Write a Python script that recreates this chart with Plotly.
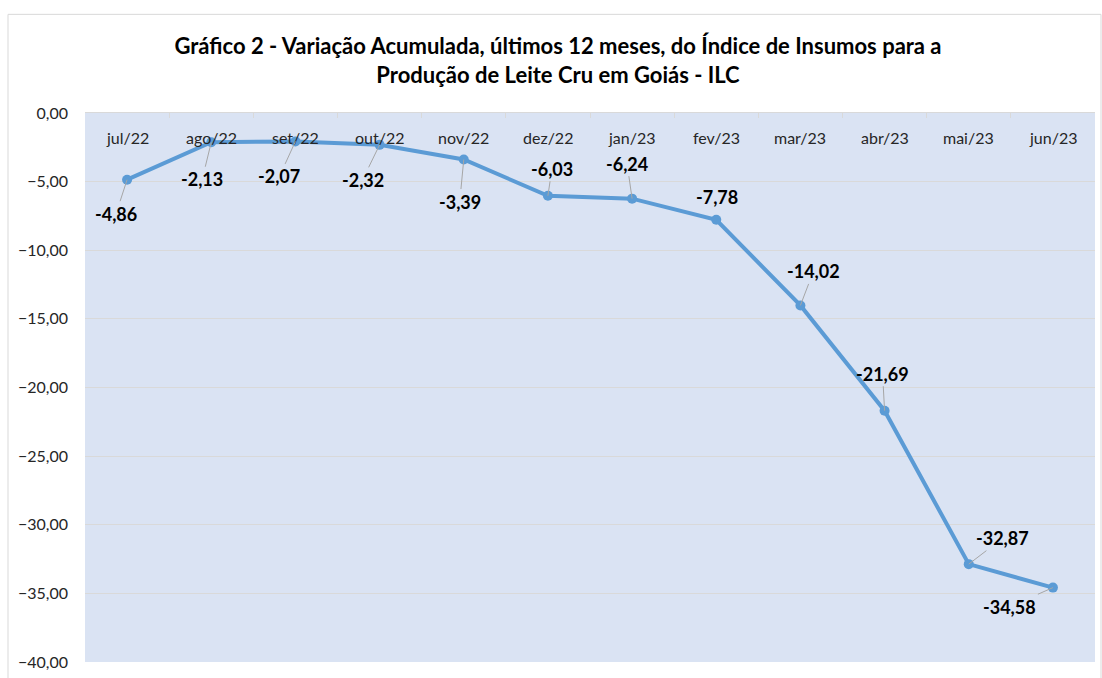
import plotly.graph_objects as go

categories = ["jul/22", "ago/22", "set/22", "out/22", "nov/22", "dez/22",
              "jan/23", "fev/23", "mar/23", "abr/23", "mai/23", "jun/23"]
values = [-4.86, -2.13, -2.07, -2.32, -3.39, -6.03,
          -6.24, -7.78, -14.02, -21.69, -32.87, -34.58]
value_labels = ["-4,86", "-2,13", "-2,07", "-2,32", "-3,39", "-6,03",
                "-6,24", "-7,78", "-14,02", "-21,69", "-32,87", "-34,58"]
y_ticks = [0, -5, -10, -15, -20, -25, -30, -35, -40]

# label offsets in pixels (text centre relative to point) and leader visibility
label_dx = [-11, -9, -16, -17, -4, 4, -5, 1, 13, -2, 34, -43]
label_dy = [34, 37, 35, 35, 42, -27, -35, -23, -34, -37, -26, 19]
leader = [True, True, True, True, True, True, True, False, True, True, True, True]

FONT = "Lato"
LINE_COLOR = "#5B9BD5"

fig = go.Figure()
fig.add_trace(go.Scatter(
    x=categories, y=values, mode="lines+markers",
    line=dict(color=LINE_COLOR, width=4),
    marker=dict(color=LINE_COLOR, size=10),
    hoverinfo="x+y", showlegend=False,
))

# category labels drawn inside the plot, just below the top edge
for c in categories:
    fig.add_annotation(
        x=c, y=1, xref="x", yref="paper", text=c, showarrow=False,
        yanchor="middle", yshift=-24,
        font=dict(family=FONT, size=16, color="#262626"),
    )

for c, v, t, dx, dy, ld in zip(categories, values, value_labels, label_dx, label_dy, leader):
    fig.add_annotation(
        x=c, y=v, xref="x", yref="y", text=f"<b>{t}</b>",
        showarrow=True, ax=dx, ay=dy, axref="pixel", ayref="pixel",
        arrowhead=0, arrowwidth=1,
        arrowcolor="#A6A6A6" if ld else "rgba(0,0,0,0)",
        standoff=0, startstandoff=0,
        font=dict(family=FONT, size=18, color="#000000"),
    )

# outer chart border
fig.add_shape(type="rect", xref="paper", yref="paper",
              x0=(8 - 85) / 1010, x1=(1101 - 85) / 1010,
              y0=(664 - 700) / 551, y1=(664 - 14) / 551,
              line=dict(color="#D9D9D9", width=1), layer="below")

fig.update_layout(
    width=1102, height=678,
    margin=dict(l=85, r=7, t=113, b=14),
    paper_bgcolor="white", plot_bgcolor="#DAE3F3",
    separators=",.",
    title=dict(
        text="<b>Gráfico 2 - Variação Acumulada, últimos 12 meses, do Índice de Insumos para a<br>Produção de Leite Cru em Goiás - ILC</b>",
        x=558 / 1102, xanchor="center", xref="container",
        y=1 - 54 / 678, yanchor="top", yref="container",
        font=dict(family=FONT, size=22, color="#000000"),
    ),
    font=dict(family=FONT),
)

fig.update_xaxes(
    type="category", range=[-0.5, len(categories) - 0.5], side="top",
    showline=True, linecolor="#D9D9D9", linewidth=1,
    ticks="inside", tickson="boundaries", ticklen=5, tickcolor="#D9D9D9",
    showticklabels=False,
    showgrid=False, zeroline=False,
)
fig.update_yaxes(
    range=[-40, 0], tickvals=y_ticks, tickformat=".2f",
    showgrid=True, gridcolor="#D9D9D9", gridwidth=1,
    zeroline=False, showline=False, ticks="",
    tickfont=dict(family=FONT, size=16, color="#262626"),
    ticklabelstandoff=16,
)

fig.write_html("out.html", config={"displayModeBar": False},
               post_script="document.body.style.margin='0px';")
